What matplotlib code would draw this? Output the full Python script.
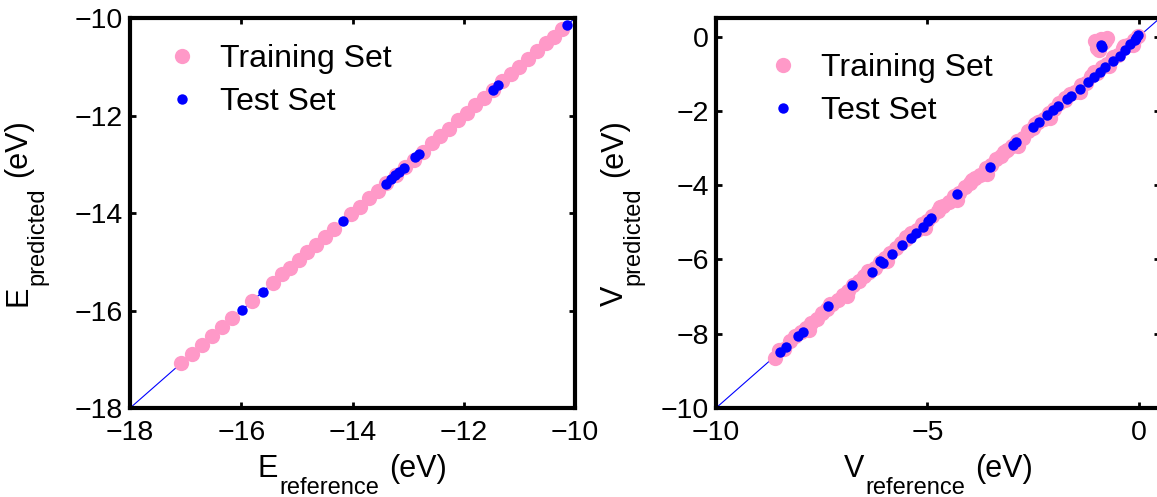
#!/usr/bin/env python3
"""
Predicted vs reference scatter: band energies (E) and potentials (V)
"""

import matplotlib
matplotlib.use('Agg')
import matplotlib.pyplot as plt

plt.rcParams['font.family'] = ['Liberation Sans', 'DejaVu Sans']

# ============================================================================
# DATA - left panel (E)
# ============================================================================
e_train_ref = [-17.08, -16.89, -16.71, -16.52, -16.34, -16.17, -15.80, -15.43,
               -15.27, -15.12, -14.96, -14.81, -14.65, -14.49, -14.33, -14.02,
               -13.86, -13.70, -13.55, -13.39, -13.22, -13.06, -12.90, -12.74,
               -12.58, -12.42, -12.26, -12.10, -11.95, -11.79, -11.63, -11.47,
               -11.31, -11.15, -11.00, -10.84, -10.68, -10.53, -10.38, -10.23]
e_train_pred = [-17.08, -16.90, -16.70, -16.53, -16.34, -16.16, -15.81, -15.43,
                -15.26, -15.12, -14.97, -14.80, -14.65, -14.50, -14.33, -14.02,
                -13.87, -13.70, -13.54, -13.39, -13.23, -13.06, -12.91, -12.74,
                -12.57, -12.42, -12.27, -12.10, -11.94, -11.79, -11.64, -11.47,
                -11.30, -11.15, -11.01, -10.84, -10.68, -10.52, -10.38, -10.23]

e_test_ref = [-15.98, -15.61, -14.17, -13.39, -13.31, -13.23, -13.16, -13.08,
              -12.87, -12.80, -11.48, -11.39, -10.14]
e_test_pred = [-15.98, -15.61, -14.17, -13.40, -13.30, -13.23, -13.15, -13.08,
               -12.86, -12.79, -11.48, -11.38, -10.14]

# ============================================================================
# DATA - right panel (V)
# ============================================================================
v_train_ref = [-8.61, -8.50, -8.38, -8.25, -8.12, -8.00, -7.88, -7.75, -7.62,
               -7.50, -7.38, -7.25, -7.12, -7.00, -6.88, -6.75, -6.62, -6.50,
               -6.38, -6.25, -6.12, -6.00, -5.88, -5.75, -5.62, -5.50, -5.38,
               -5.25, -5.12, -5.00, -4.88, -4.75, -4.62, -4.50, -4.38, -4.25,
               -4.12, -4.00, -3.88, -3.75, -3.62, -3.50, -3.38, -3.25, -3.12,
               -3.00, -2.88, -2.75, -2.62, -2.50, -2.38, -2.25, -2.12, -2.00,
               -1.88, -1.75, -1.62, -1.50, -1.38, -1.25, -1.12, -1.00, -0.88,
               -0.75, -0.62, -0.50, -0.38, -0.25, -0.12, -0.02,
               -7.80, -7.30, -6.90, -6.40, -5.95, -5.50, -5.05, -4.70, -4.30,
               -3.95, -3.60, -3.20, -2.85, -2.45, -2.10, -1.75, -1.40, -1.05,
               -0.70, -0.35, -0.15,
               -1.04, -0.75, -0.95, -0.85, -1.00, -0.80, -0.90]
v_train_pred = [-8.64, -8.45, -8.40, -8.20, -8.05, -7.96, -7.85, -7.70, -7.60,
                -7.45, -7.34, -7.20, -7.08, -6.95, -6.86, -6.70, -6.58, -6.44,
                -6.34, -6.22, -6.06, -5.96, -5.82, -5.70, -5.55, -5.46, -5.30,
                -5.22, -5.05, -4.96, -4.82, -4.70, -4.55, -4.45, -4.30, -4.20,
                -4.05, -3.95, -3.80, -3.72, -3.55, -3.45, -3.30, -3.22, -3.05,
                -2.95, -2.80, -2.72, -2.55, -2.45, -2.30, -2.22, -2.05, -1.95,
                -1.80, -1.72, -1.55, -1.48, -1.30, -1.24, -1.05, -0.98, -0.82,
                -0.74, -0.56, -0.50, -0.32, -0.24, -0.08, 0.02,
                -7.90, -7.20, -6.98, -6.30, -6.05, -5.40, -5.15, -4.60, -4.40,
                -3.85, -3.70, -3.10, -2.95, -2.35, -2.20, -1.65, -1.50, -0.95,
                -0.80, -0.25, -0.22,
                -0.11, -0.03, -0.35, -0.18, -0.30, -0.12, -0.06]

v_test_ref = [-8.49, -8.35, -8.07, -7.94, -7.34, -6.79, -6.32, -6.12, -6.06,
              -5.83, -5.61, -5.39, -5.26, -5.10, -4.98, -4.92, -4.29, -3.52,
              -2.98, -2.90, -2.50, -2.35, -2.18, -2.02, -1.91, -1.70, -1.60,
              -1.39, -1.20, -1.05, -0.92, -0.80, -0.62, -0.45, -0.33, -0.20,
              -0.10, -0.02, -0.06, -0.90, -0.88]
v_test_pred = [-8.49, -8.36, -8.06, -7.95, -7.25, -6.69, -6.33, -6.04, -6.09,
               -5.86, -5.61, -5.43, -5.28, -5.12, -4.96, -4.88, -4.24, -3.52,
               -2.93, -2.85, -2.44, -2.30, -2.10, -1.98, -1.86, -1.68, -1.60,
               -1.41, -1.22, -1.08, -0.96, -0.82, -0.66, -0.51, -0.36, -0.20,
               -0.08, 0.03, -0.05, -0.22, -0.29]

e_ticks = [-18, -16, -14, -12, -10]
v_xticks = [-10, -5, 0]
v_yticks = [-10, -8, -6, -4, -2, 0]

PINK = '#FF99C8'
BLUE = '#0000FF'

fig = plt.figure(figsize=(11.57, 4.97), dpi=100)
ax1 = fig.add_axes([0.1124, 0.179, 0.3846, 0.7848])
ax2 = fig.add_axes([0.6188, 0.179, 0.3838, 0.7848])


def fmt(ticks):
    return [f'{t:g}'.replace('-', '\u2212') for t in ticks]


def style_axes(ax, lims, xticks, yticks, leg_anchor):
    ax.set_xlim(lims)
    ax.set_ylim(lims)
    ax.set_xticks(xticks)
    ax.set_yticks(yticks)
    ax.set_xticklabels(fmt(xticks))
    ax.set_yticklabels(fmt(yticks))
    ax.tick_params(direction='in', length=4, width=2, labelsize=20.5,
                   top=True, right=True)
    ax.tick_params(axis='x', pad=8.5)
    ax.tick_params(axis='y', pad=5)
    for sp in ax.spines.values():
        sp.set_linewidth(3)
    ax.legend(loc='upper left', frameon=False, fontsize=23, handletextpad=0.2,
              handlelength=2.0, borderaxespad=0, borderpad=0,
              labelspacing=0.4, numpoints=1, bbox_to_anchor=leg_anchor)


# compound label: big letter, lowered subscript, unit
DROP = 10.5
MAIN_FS = 22
SUB_FS = 17


def xlabel_sub(ax, main, sub, unit, y):
    t0 = ax.text(0, y, main, transform=ax.transAxes, fontsize=MAIN_FS,
                 ha='left', va='baseline')
    t1 = ax.annotate(sub, xy=(1, 0), xycoords=t0, xytext=(1, -DROP),
                     textcoords='offset points', fontsize=SUB_FS,
                     ha='left', va='bottom')
    t2 = ax.annotate(unit, xy=(1, 0), xycoords=t1, xytext=(7, DROP),
                     textcoords='offset points', fontsize=MAIN_FS,
                     ha='left', va='bottom')
    return t0, t1, t2


def ylabel_sub(ax, main, sub, unit, x):
    t0 = ax.text(x, 0.5, main, transform=ax.transAxes, fontsize=MAIN_FS,
                 rotation=90, ha='right', va='bottom')
    t1 = ax.annotate(sub, xy=(1, 1), xycoords=t0, xytext=(DROP, 1),
                     textcoords='offset points', fontsize=SUB_FS,
                     rotation=90, ha='right', va='bottom')
    t2 = ax.annotate(unit, xy=(1, 1), xycoords=t1, xytext=(-DROP, 7),
                     textcoords='offset points', fontsize=MAIN_FS,
                     rotation=90, ha='right', va='bottom')
    return t0, t1, t2


# ---- left panel
ax1.plot([-18, -10], [-18, -10], color=BLUE, lw=0.8, zorder=1)
ax1.plot(e_train_ref, e_train_pred, 'o', color=PINK, ms=11, mec='none',
         label='Training Set', zorder=2)
ax1.plot(e_test_ref, e_test_pred, 'o', color=BLUE, ms=7.5, mec='none',
         label='Test Set', zorder=3)
style_axes(ax1, (-18, -10), e_ticks, e_ticks, (0.045, 0.933))

# ---- right panel
ax2.plot([-10, 0.5], [-10, 0.5], color=BLUE, lw=0.8, zorder=1)
ax2.plot(v_train_ref, v_train_pred, 'o', color=PINK, ms=11, mec='none',
         label='Training Set', zorder=2)
ax2.plot(v_test_ref, v_test_pred, 'o', color=BLUE, ms=7.5, mec='none',
         label='Test Set', zorder=3)
style_axes(ax2, (-10, 0.5), v_xticks, v_yticks, (0.079, 0.91))

xl1 = xlabel_sub(ax1, 'E', 'reference', '(eV)', -0.177)
yl1 = ylabel_sub(ax1, 'E', 'predicted', '(eV)', -0.217)
xl2 = xlabel_sub(ax2, 'V', 'reference', '(eV)', -0.177)
yl2 = ylabel_sub(ax2, 'V', 'predicted', '(eV)', -0.195)

# centre the compound labels on their axes
fig.canvas.draw()
renderer = fig.canvas.get_renderer()
for ax, xl, yl in [(ax1, xl1, yl1), (ax2, xl2, yl2)]:
    abox = ax.get_window_extent(renderer)
    w = xl[2].get_window_extent(renderer).x1 - xl[0].get_window_extent(renderer).x0
    x0 = (abox.width / 2 - w / 2) / abox.width
    xl[0].set_position((x0, xl[0].get_position()[1]))
    h = yl[2].get_window_extent(renderer).y1 - yl[0].get_window_extent(renderer).y0
    y0 = (abox.height / 2 - h / 2) / abox.height
    yl[0].set_position((yl[0].get_position()[0], y0))

fig.savefig('out.png', dpi=100, facecolor='white')
